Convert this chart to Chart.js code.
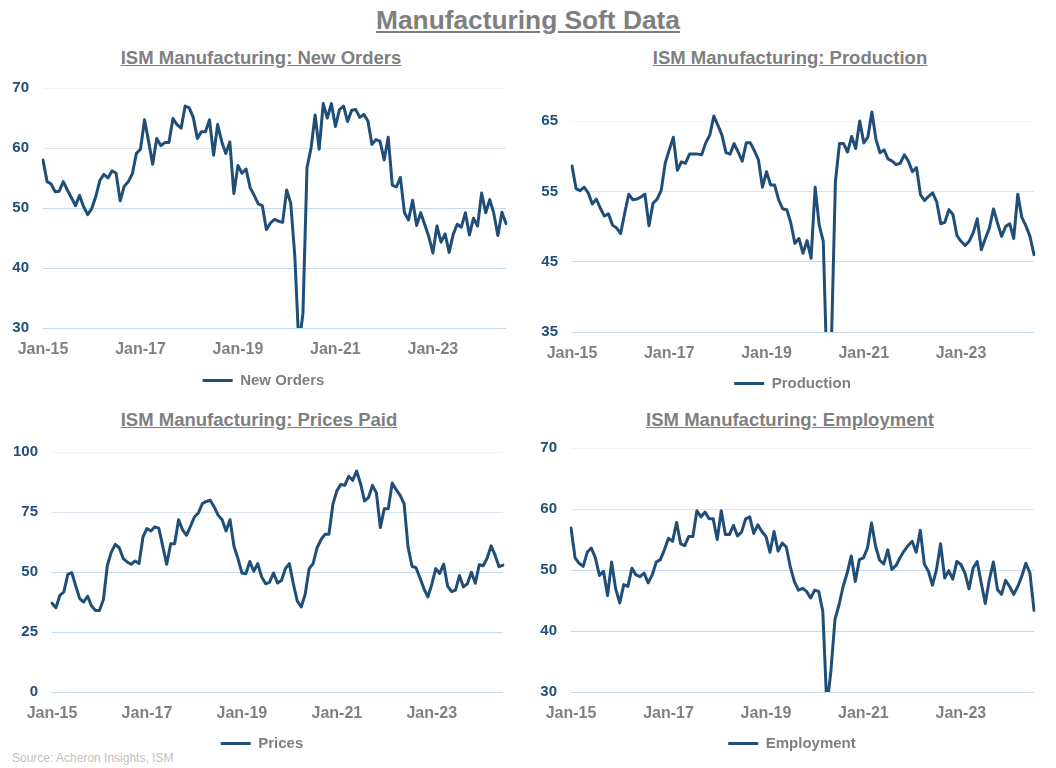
<!DOCTYPE html>
<html><head><meta charset="utf-8">
<script src="https://cdn.jsdelivr.net/npm/chart.js@4.4.1/dist/chart.umd.min.js"></script>
<style>
html,body{margin:0;padding:0;background:#fff;}
body{width:1056px;height:768px;position:relative;overflow:hidden;font-family:'Liberation Sans',Arial,sans-serif;}
canvas{position:absolute;}
.t{position:absolute;white-space:nowrap;color:#7f7f7f;font-weight:bold;text-decoration:underline;line-height:1;transform:translateX(-50%);}
.src{position:absolute;left:12px;top:752px;font-size:12px;line-height:1;color:#bfbfbf;white-space:nowrap;}
</style></head><body>
<div class="t" style="left:528px;top:7px;font-size:26.3px;">Manufacturing Soft Data</div>
<div class="t" style="left:261px;top:49px;font-size:18.5px;">ISM Manufacturing: New Orders</div>
<div class="t" style="left:790px;top:49px;font-size:18.5px;">ISM Manufacturing: Production</div>
<div class="t" style="left:259px;top:411px;font-size:18.5px;">ISM Manufacturing: Prices Paid</div>
<div class="t" style="left:790px;top:411px;font-size:18.5px;">ISM Manufacturing: Employment</div>
<div class="src">Source: Acheron Insights, ISM</div>
<canvas id="c1"></canvas>
<canvas id="c2"></canvas>
<canvas id="c3"></canvas>
<canvas id="c4"></canvas>
<script>
// ---- categories: monthly, Jan-15 .. Jul-24 ----
const monthNames = ['Jan','Feb','Mar','Apr','May','Jun','Jul','Aug','Sep','Oct','Nov','Dec'];
const startYear = 2015, monthCount = 115;
const months = [];
for (let k = 0; k < monthCount; k++) {
  const y = startYear + Math.floor(k / 12);
  months.push(monthNames[k % 12] + '-' + String(y).slice(2));
}
const xTickLabels = ['Jan-15','Jan-17','Jan-19','Jan-21','Jan-23'];

// ---- series ----
const newOrders = [
  58.0,54.4,54.0,52.7,52.8,54.4,53.0,51.7,50.4,52.1,50.2,48.9,
  49.9,51.9,54.6,55.6,55.0,56.2,55.8,51.2,53.6,54.4,55.7,59.1,
  59.8,64.7,61.1,57.3,61.6,60.4,60.9,60.9,64.9,63.9,63.3,67.0,
  66.7,65.1,61.6,62.7,62.7,64.7,58.8,63.9,61.1,59.1,61.0,52.4,
  57.1,55.8,56.5,53.4,52.1,50.7,50.4,46.4,47.5,48.1,47.8,47.6,
  53.0,50.8,42.0,27.1,32.4,56.7,60.0,65.5,59.8,67.4,65.0,67.4,
  63.6,66.4,67.0,64.4,66.3,66.4,65.1,65.6,64.5,60.6,61.4,61.1,
  58.0,61.8,53.8,53.5,55.1,49.2,48.0,51.3,47.1,49.2,47.2,45.2,
  42.5,47.0,44.3,45.7,42.6,45.6,47.3,46.8,49.2,45.5,48.3,47.0,
  52.5,49.2,51.4,49.1,45.4,49.3,47.4
];
const production = [
  58.6,55.4,55.1,55.6,54.8,53.2,53.9,52.6,51.5,51.8,50.2,49.8,
  49.0,51.9,54.6,53.8,53.9,54.2,54.6,50.1,53.3,53.9,55.1,59.0,
  60.9,62.7,58.0,59.2,59.0,60.3,60.3,60.3,60.2,61.9,63.0,65.7,
  64.4,63.0,60.5,60.3,61.8,60.6,59.3,61.9,61.9,60.8,59.5,55.6,
  57.8,55.9,55.9,53.8,52.5,52.4,50.5,47.6,48.3,46.2,48.0,45.5,
  55.6,50.2,47.9,27.5,33.2,56.4,61.8,61.8,60.6,62.8,61.1,65.0,
  61.9,62.7,66.3,62.4,60.5,60.9,59.6,59.3,58.8,59.0,60.2,59.3,
  57.8,58.4,54.5,53.7,54.3,54.8,53.5,50.4,50.6,52.4,51.7,48.7,
  47.9,47.3,47.9,49.1,51.1,46.7,48.3,49.8,52.5,50.5,48.6,50.0,
  50.4,48.3,54.6,51.3,50.1,48.6,46.0
];
const prices = [
  37.0,35.1,40.3,41.7,49.0,49.7,44.2,38.9,37.5,39.9,35.8,34.0,
  34.0,38.5,52.8,58.3,61.5,60.1,55.6,54.2,53.2,54.6,53.5,64.6,
  68.1,67.1,68.8,68.3,60.7,53.2,61.8,61.8,71.8,67.6,65.3,69.0,
  72.9,74.6,78.5,79.4,79.9,77.1,73.6,71.8,67.1,71.8,60.7,55.6,
  49.6,49.3,54.4,50.3,53.5,47.9,45.1,45.8,49.6,45.4,46.5,51.4,
  53.5,45.1,37.9,35.4,40.7,51.4,53.5,60.1,63.5,65.7,65.7,78.2,
  83.8,86.5,86.1,89.9,88.2,92.1,86.8,79.6,81.0,86.1,82.9,68.5,
  76.4,76.4,87.1,84.3,81.9,78.5,60.4,52.4,51.8,47.6,43.1,39.6,
  44.8,51.4,49.4,53.3,44.1,41.8,42.5,48.5,43.8,45.1,49.9,45.3,
  53.0,52.6,55.8,60.9,57.0,52.2,52.9
];
const employment = [
  56.9,52.0,51.1,50.6,52.9,53.6,52.0,49.1,49.8,45.8,51.3,46.9,
  44.6,47.6,47.3,50.3,49.2,48.9,49.5,47.9,49.2,51.3,51.7,53.3,
  55.2,54.7,57.8,54.3,54.0,55.5,55.5,59.7,58.7,59.5,58.4,58.4,
  55.0,59.7,55.8,55.8,57.3,55.6,56.2,58.4,58.7,56.0,57.4,56.3,
  55.5,52.9,56.3,53.1,54.4,53.8,50.5,48.1,46.7,47.0,46.5,45.4,
  46.7,46.5,43.2,27.5,33.5,41.9,44.3,47.3,49.5,52.3,48.1,51.7,
  52.0,53.6,57.7,53.9,51.6,51.0,53.3,50.1,50.7,52.0,53.1,54.0,
  54.7,52.9,56.5,51.0,49.8,47.5,50.1,54.3,48.7,49.9,48.5,51.4,
  50.9,49.5,46.9,50.3,51.4,47.9,44.5,48.4,51.3,46.8,46.0,48.3,
  47.3,46.0,47.3,49.0,51.1,49.5,43.4
];

// ---- y-axis tick labels ----
const newOrdersTicks = [30,40,50,60,70];
const productionTicks = [35,45,55,65];
const pricesTicks = [0,25,50,75,100];
const employmentTicks = [30,40,50,60,70];

Chart.defaults.font.family = "'Liberation Sans', Arial, sans-serif";

const LINE = '#1f4e79';
function gridColor(ctx) {
  const n = ctx.scale.ticks.length;
  if (ctx.index === n - 1) return '#f1f4f8';
  if (ctx.index === n - 2) return '#dae5f1';
  return '#c5daef';
}

// centres the bottom legend under the whole panel rather than the padded area
const legendShift = {
  id: 'legendShift',
  afterLayout(chart, args, opts) {
    const l = chart.legend;
    if (l && opts && opts.dx) { l.left += opts.dx; l.right += opts.dx; }
  }
};

function panel(id, box, series, label, yTicks, yMin, yMax) {
  const cv = document.getElementById(id);
  cv.width = box.w; cv.height = box.h;
  cv.style.left = box.x + 'px'; cv.style.top = box.y + 'px';
  new Chart(cv, {
    type: 'line',
    plugins: [legendShift],
    data: {
      labels: months,
      datasets: [{
        label: label,
        data: series,
        borderColor: LINE,
        backgroundColor: LINE,
        borderWidth: 3,
        pointRadius: 0,
        pointHoverRadius: 0,
        pointStyle: 'line',
        tension: 0,
        borderJoinStyle: 'round',
        borderCapStyle: 'round'
      }]
    },
    options: {
      responsive: false,
      animation: false,
      devicePixelRatio: 1,
      layout: { padding: { left: 0, right: box.padR, top: 30, bottom: 0 } },
      plugins: {
        tooltip: { enabled: false },
        legendShift: { dx: box.dx },
        legend: {
          position: 'bottom',
          labels: {
            usePointStyle: true,
            pointStyleWidth: 30,
            color: '#7f7f7f',
            font: { size: 15, weight: 'bold' },
            padding: 10
          }
        }
      },
      scales: {
        x: {
          type: 'category',
          offset: false,
          grid: { display: false },
          border: { display: false },
          ticks: {
            autoSkip: false,
            maxRotation: 0,
            minRotation: 0,
            padding: 3.5,
            color: '#808080',
            font: { size: 16, weight: 'bold' },
            callback: function (v) {
              const l = this.getLabelForValue(v);
              return xTickLabels.includes(l) ? l : null;
            }
          },
          afterFit: (s) => { s.height = box.xH; }
        },
        y: {
          min: yMin,
          max: yMax,
          border: { display: false },
          grid: { drawTicks: false, color: gridColor, lineWidth: 1 },
          ticks: {
            padding: 14,
            color: '#1f4e79',
            font: { size: 15, weight: 'bold' }
          },
          afterBuildTicks: (s) => { s.ticks = yTicks.map(v => ({ value: v })); },
          afterFit: (s) => { s.width = box.yW; }
        }
      }
    }
  });
}

panel('c1', { x: 0,   y: 58,  w: 528, h: 340, padR: 22, dx: 10.5, yW: 43, xH: 35 }, newOrders,  'New Orders', newOrdersTicks, 30, 70);
panel('c2', { x: 528, y: 77,  w: 528, h: 324, padR: 22, dx: 11.5, yW: 44, xH: 34 }, production, 'Production', productionTicks, 35, 67);
panel('c3', { x: 0,   y: 422, w: 528, h: 339, padR: 25, dx: 10.5, yW: 52, xH: 34 }, prices,     'Prices',     pricesTicks, 0, 100);
panel('c4', { x: 528, y: 418, w: 528, h: 343, padR: 22, dx: 11,   yW: 43, xH: 34 }, employment, 'Employment', employmentTicks, 30, 70);
</script>
</body></html>
